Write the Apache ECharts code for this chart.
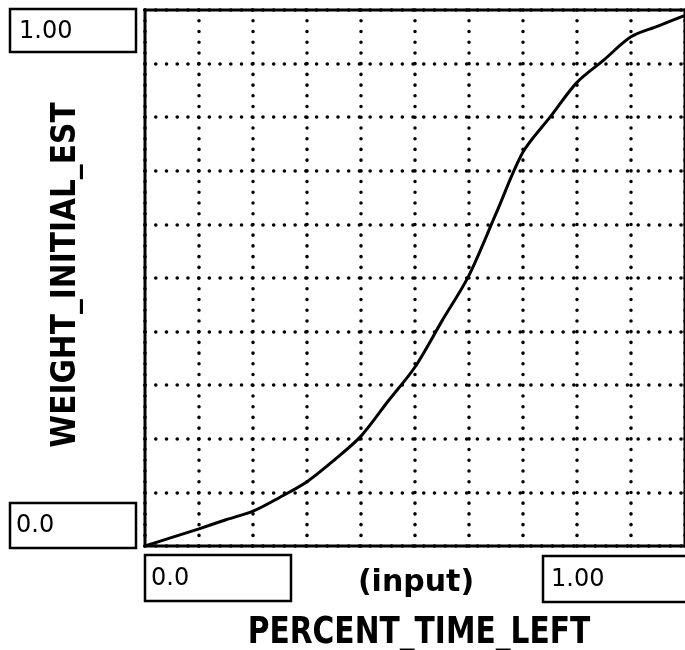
<!DOCTYPE html>
<html>
<head>
<meta charset="utf-8">
<script src="https://cdn.jsdelivr.net/npm/echarts@6/dist/echarts.min.js"></script>
<style>
html,body{margin:0;padding:0;background:#fff;}
#chart{width:685px;height:650px;}
</style>
</head>
<body>
<div id="chart"></div>
<script>
const xValues = [0, 0.05, 0.1, 0.15, 0.2, 0.25, 0.3, 0.35, 0.4, 0.45, 0.5, 0.55, 0.6, 0.65, 0.7, 0.75, 0.8, 0.85, 0.9, 0.95, 1.0];
const yValues = [0, 0.016, 0.032, 0.049, 0.065, 0.091, 0.12, 0.16, 0.205, 0.27, 0.334, 0.42, 0.505, 0.62, 0.735, 0.80, 0.865, 0.907, 0.95, 0.97, 0.99];
const xTickLabels = ['0.0', '1.00'];
const yTickLabels = ['0.0', '1.00'];
const xTitle = 'PERCENT_TIME_LEFT';
const yTitle = 'WEIGHT_INITIAL_EST';
const xNote = '(input)';

const chart = echarts.init(document.getElementById('chart'));
const titleFont = '"DejaVu Sans Condensed", "DejaVu Sans", sans-serif';
const labelFont = '"DejaVu Sans", Arial, sans-serif';
const dotted = { color: '#000', width: 3.5, type: [0.1, 10.62], cap: 'round' };

function box(x, y, w, h) {
  return { type: 'rect', shape: { x: x, y: y, width: w, height: h },
    style: { fill: '#fff', stroke: '#000', lineWidth: 2.5 } };
}
function txt(x, y, s, size, weight, family, align, rotation, scaleY) {
  return { type: 'text', x: x, y: y, z: 10, rotation: rotation || 0, scaleY: scaleY || 1,
    style: { text: s, fill: '#000', fontSize: size, fontWeight: weight,
      fontFamily: family, align: align || 'left', verticalAlign: 'middle' } };
}

chart.setOption({
  animation: false,
  grid: { left: 145, top: 10, width: 543, height: 536, show: true,
    borderColor: '#000', borderWidth: 3, backgroundColor: 'transparent' },
  xAxis: { type: 'value', min: 0, max: 1, interval: 0.1,
    axisLine: { show: false }, axisTick: { show: false }, axisLabel: { show: false },
    splitLine: { show: true, lineStyle: dotted } },
  yAxis: { type: 'value', min: 0, max: 1, interval: 0.1,
    axisLine: { show: false }, axisTick: { show: false }, axisLabel: { show: false },
    splitLine: { show: true, lineStyle: dotted } },
  series: [{
    type: 'line', showSymbol: false, smooth: 0.3, z: 5,
    lineStyle: { color: '#000', width: 3 },
    data: xValues.map((x, i) => [x, yValues[i]])
  }],
  graphic: [
    box(10, 9, 126, 43),
    txt(19, 32, yTickLabels[1], 24, 'normal', labelFont),
    box(10, 503, 126, 45),
    txt(16, 526, yTickLabels[0], 24, 'normal', labelFont),
    box(145, 555, 146, 46),
    txt(151, 579, xTickLabels[0], 24, 'normal', labelFont),
    box(543, 556, 160, 46),
    txt(551, 580, xTickLabels[1], 24, 'normal', labelFont),
    txt(416, 583, xNote, 30, 'bold', labelFont, 'center'),
    txt(419, 633, xTitle, 33, 'bold', titleFont, 'center', 0, 1.15),
    txt(66, 275, yTitle, 33, 'bold', titleFont, 'center', Math.PI / 2)
  ]
});
</script>
</body>
</html>
